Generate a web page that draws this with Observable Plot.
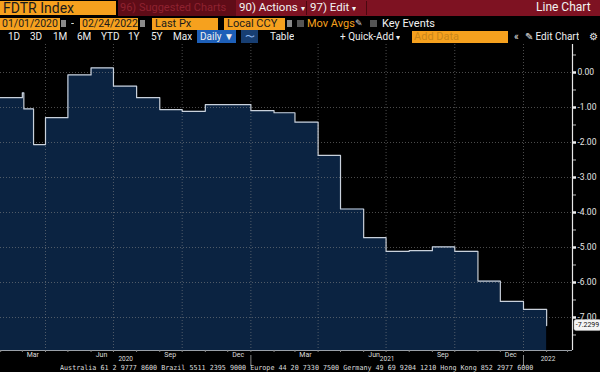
<!DOCTYPE html>
<html>
<head>
<meta charset="utf-8">
<script src="https://cdn.jsdelivr.net/npm/d3@7"></script>
<script src="https://cdn.jsdelivr.net/npm/@observablehq/plot@0.6"></script>
<style>
  html, body { margin: 0; padding: 0; background: #000; }
  #page { position: relative; width: 600px; height: 372px; overflow: hidden; background: #000; font-family: "Roboto", "Liberation Sans", sans-serif; }
  .a { position: absolute; white-space: nowrap; box-sizing: border-box; overflow: hidden; }
  .or { background: #f6a11e; color: #1b1b1b; font-size: 11px; line-height: 12px; padding-left: 2px; }
  .w { color: #f2f2f2; }
  .r1 { font-size: 12px; line-height: 15px; }
  .r3 { font-size: 10px; line-height: 13px; color: #eee; }
  #chart { position: absolute; left: 0; top: 44px; }
  #foot { position: absolute; left: 60px; top: 365px; font-family: "DejaVu Sans Mono", monospace; font-size: 7px; line-height: 7px; color: #ddd; transform-origin: 0 0; transform: scaleX(0.96); white-space: nowrap; }
</style>
</head>
<body>
<div id="page">
  <!-- row 1 -->
  <div class="a" style="left:118px;top:0;width:482px;height:16px;background:#7e1222;"></div>
  <div class="a or" style="left:0;top:1px;width:116px;height:14px;font-size:14px;line-height:14px;padding-left:3px;">FDTR Index</div>
  <div class="a r1" style="left:118px;top:0;width:118px;height:16px;background:#5f0c17;color:#8f2230;padding-left:2px;font-size:11px;">96) Suggested Charts</div>
  <div class="a r1 w" style="left:239px;top:0;font-size:11.5px;">90) Actions <span style="font-size:8px">▾</span></div>
  <div class="a" style="left:306px;top:1px;width:1px;height:14px;background:#4a0810;"></div>
  <div class="a r1 w" style="left:310px;top:0;font-size:11.5px;">97) Edit <span style="font-size:8px">▾</span></div>
  <div class="a" style="left:366px;top:1px;width:1px;height:14px;background:#4a0810;"></div>
  <div class="a r1 w" style="left:536px;top:0;">Line Chart</div>
  <!-- row 2 -->
  <div class="a or" style="left:0;top:18px;width:60px;height:12px;font-size:10.5px;">01/01/2020</div>
  <div class="a" style="left:61px;top:20px;width:5px;height:7px;background:#8a8a8a;"></div>
  <div class="a w" style="left:71px;top:17px;font-size:11px;">-</div>
  <div class="a or" style="left:80px;top:18px;width:58px;height:12px;font-size:10.5px;">02/24/2022</div>
  <div class="a" style="left:140px;top:20px;width:5px;height:7px;background:#8a8a8a;"></div>
  <div class="a or" style="left:152px;top:18px;width:66px;height:12px;padding-left:3px;">Last Px</div>
  <div class="a or" style="left:224px;top:18px;width:61px;height:12px;padding-left:3px;">Local CCY</div>
  <div class="a" style="left:287px;top:20px;width:5px;height:7px;background:#8a8a8a;"></div>
  <div class="a" style="left:297px;top:20px;width:7px;height:7px;background:#555;"></div>
  <div class="a" style="left:307px;top:17px;font-size:11px;line-height:13px;color:#f6a11e;">Mov Avgs</div>
  <div class="a" style="left:355px;top:17px;font-size:9px;line-height:13px;color:#ddd;">✎</div>
  <div class="a" style="left:370px;top:20px;width:7px;height:7px;background:#555;"></div>
  <div class="a w" style="left:382px;top:17px;font-size:11px;line-height:13px;">Key Events</div>
  <!-- row 3 -->
  <div class="a r3" style="left:8px;top:30px;">1D</div>
  <div class="a r3" style="left:30px;top:30px;">3D</div>
  <div class="a r3" style="left:53px;top:30px;">1M</div>
  <div class="a r3" style="left:77px;top:30px;">6M</div>
  <div class="a r3" style="left:101px;top:30px;">YTD</div>
  <div class="a r3" style="left:128px;top:30px;">1Y</div>
  <div class="a r3" style="left:151px;top:30px;">5Y</div>
  <div class="a r3" style="left:173px;top:30px;">Max</div>
  <div class="a r3" style="left:197px;top:30px;width:39px;height:13px;background:#1d5fb8;padding-left:3px;">Daily ▼</div>
  <div class="a r3" style="left:241px;top:30px;width:17px;height:13px;background:#173e72;color:#8fb8f0;text-align:center;">〜</div>
  <div class="a r3" style="left:270px;top:30px;">Table</div>
  <div class="a r3" style="left:340px;top:30px;">+ Quick-Add <span style="font-size:8px">▾</span></div>
  <div class="a" style="left:412px;top:31px;width:96px;height:12px;background:#f6a11e;color:#c9861a;font-size:11px;line-height:12px;padding-left:2px;">Add Data</div>
  <div class="a r3" style="left:514px;top:30px;">«</div>
  <div class="a r3" style="left:525px;top:30px;">✎ Edit Chart</div>
  <div class="a r3" style="left:589px;top:30px;">⚙</div>
  <div id="chart"></div>
  <div id="foot">Australia 61 2 9777 8600 Brazil 5511 2395 9000 Europe 44 20 7330 7500 Germany 49 69 9204 1210 Hong Kong 852 2977 6000</div>
</div>
<script>
// ---- data ----
const dates = [
  "2020-01-31","2020-03-01","2020-03-03","2020-03-16","2020-04-01","2020-05-01","2020-06-01",
  "2020-07-01","2020-08-01","2020-09-01","2020-10-01","2020-11-01","2020-12-01",
  "2021-01-01","2021-02-01","2021-03-01","2021-04-01","2021-05-01","2021-06-01",
  "2021-07-01","2021-08-01","2021-09-01","2021-10-01","2021-11-01","2021-12-01",
  "2022-01-01","2022-02-01"
];
const values = [
  -0.72, -0.58, -1.04, -2.06, -1.29, -0.07, 0.13,
  -0.39, -0.72, -1.06, -1.11, -0.92, -0.92,
  -1.09, -1.15, -1.42, -2.37, -3.90, -4.72,
  -5.11, -5.09, -4.98, -5.11, -5.96, -6.54,
  -6.77, -7.2299
];
const yTicks = [0, -1, -2, -3, -4, -5, -6, -7];
const yMinorTicks = [0.5, -0.5, -1.5, -2.5, -3.5, -4.5, -5.5, -6.5, -7.5];
const xDomain = ["2020-01-31T18:00:00Z", "2022-03-07T15:00:00Z"];
const yDomain = [-7.943, 0.8];
const gridDates = ["2020-04-01","2020-07-01","2020-10-01","2021-01-01","2021-04-01","2021-07-01","2021-10-01","2022-01-01"];
const monthLabelDates = ["2020-03-15","2020-06-15","2020-09-15","2020-12-15","2021-03-15","2021-06-15","2021-09-15","2021-12-15"];
const yearStarts = ["2020-01-01","2021-01-01","2022-01-01","2023-01-01"];
const yearNames = ["2020", "2021", "2022"];
const lastLabel = "-7.2299";

const D = s => new Date(s.length === 10 ? s + "T00:00:00Z" : s);
const data = dates.map((d, i) => ({date: D(d), v: values[i]}));
const x0 = D(xDomain[0]), x1 = D(xDomain[1]);
const yMin = yDomain[0];
// year labels centered on visible portion of each year
const yearLabels = yearNames.map((n, i) => {
  const a = Math.max(+D(yearStarts[i]), +x0), b = Math.min(+D(yearStarts[i + 1]), +x1);
  return {date: new Date((a + b) / 2), text: n};
});
const monthTicks = d3.utcMonths(x0, x1);
const sepDates = [D("2021-01-01"), D("2022-01-01")];

const font = "'Roboto', 'Liberation Sans', sans-serif";

const lastBox = (index, scales, values_, dim) => {
  const g = d3.create("svg:g");
  const y = scales.y(values[values.length - 1]);
  const x = dim.width - dim.marginRight + 2;
  g.append("rect").attr("x", x).attr("y", y - 5.5).attr("width", 27).attr("height", 11)
    .attr("rx", 2).attr("fill", "#f4f4f4").attr("stroke", "#bbb").attr("stroke-width", 0.5);
  g.append("text").attr("x", x + 13.5).attr("y", y).attr("dy", "0.35em")
    .attr("text-anchor", "middle").attr("font-size", 7).attr("fill", "#111")
    .attr("font-family", font).text(lastLabel);
  return g.node();
};

const chart = Plot.plot({
  width: 600,
  height: 328,
  marginLeft: 0,
  marginRight: 28,
  marginTop: 0,
  marginBottom: 22,
  style: {background: "#000", color: "#ddd", fontFamily: font, overflow: "visible"},
  x: {type: "utc", domain: [x0, x1], axis: null},
  y: {domain: yDomain, axis: null},
  marks: [
    Plot.areaY(data, {x: "date", y1: () => yMin, y2: "v", curve: "step-after", fill: "#0b2341"}),
    Plot.ruleY(yTicks, {stroke: "#8a8a8a", strokeOpacity: 0.55, strokeDasharray: "1,2", strokeWidth: 1}),
    Plot.ruleX(gridDates.map(D), {stroke: "#8a8a8a", strokeOpacity: 0.55, strokeDasharray: "1,2", strokeWidth: 1}),
    Plot.lineY(data, {x: "date", y: "v", curve: "step-after", stroke: "#c9d1dc", strokeWidth: 1.2}),
    Plot.ruleY([yMin], {stroke: "#9aa0a8", strokeWidth: 1}),
    Plot.ruleX([x1], {stroke: "#e8e8e8", strokeWidth: 1.2}),
    Plot.axisY({anchor: "right", ticks: yTicks, tickSize: 3, strokeWidth: 2.5, stroke: "#eee", tickPadding: 2,
      tickFormat: d => d.toFixed(2), fontSize: 8.5, fill: "#e6e6e6", label: null}),
    Plot.axisY({anchor: "right", ticks: yMinorTicks, tickSize: 3, stroke: "#bbb", tickFormat: () => "", label: null}),
    Plot.axisX({ticks: monthTicks, tickSize: 2, stroke: "#888", tickFormat: () => "", label: null}),
    Plot.axisX({ticks: monthLabelDates.map(D), tickSize: 0, tickPadding: 2, tickFormat: d3.utcFormat("%b"),
      fontSize: 7, fill: "#ddd", label: null}),
    Plot.text(yearLabels, {x: "date", y: () => yMin, text: "text", dy: 8.5, fontSize: 6.5, fill: "#ddd"}),
    Plot.ruleX(sepDates, {y1: () => yMin, y2: () => yMin, insetTop: 5, insetBottom: -16, stroke: "#888"}),
    lastBox
  ]
});
document.getElementById("chart").appendChild(chart);
</script>
</body>
</html>
